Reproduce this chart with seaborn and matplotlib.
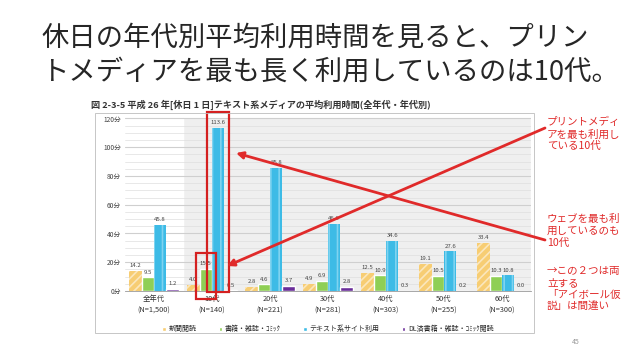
import matplotlib
matplotlib.use('Agg')
import matplotlib.pyplot as plt
from matplotlib.patches import Rectangle, FancyArrowPatch
from matplotlib.ticker import MultipleLocator
import numpy as np
import pandas as pd
import seaborn as sns

# data
ages = ['全年代', '10代', '20代', '30代', '40代', '50代', '60代']
samples = ['N=1,500', 'N=140', 'N=221', 'N=281', 'N=303', 'N=255', 'N=300']
media = ['新聞閲読', '書籍・雑誌・ｺﾐｯｸ', 'テキスト系サイト利用', 'DL済書籍・雑誌・ｺﾐｯｸ閲読']
newspaper = [14.2, 4.0, 2.8, 4.9, 12.5, 19.1, 33.4]
books = [9.5, 15.5, 4.6, 6.9, 10.9, 10.5, 10.3]
text_sites = [45.8, 113.6, 85.8, 46.6, 34.6, 27.6, 10.8]
dl_books = [1.2, 0.5, 3.7, 2.8, 0.3, 0.2, 0.0]
y_ticks = [0, 20, 40, 60, 80, 100, 120]

W, H = 638, 359


def px(x, y):
    # pixel position on the slide -> figure fraction
    return x / W, 1 - y / H


sns.set_style("white")
plt.rcParams['font.family'] = ['Noto Sans CJK JP', 'DejaVu Sans']
plt.rcParams['hatch.linewidth'] = 1.2

df = pd.DataFrame({
    'age': ages * 4,
    'media': np.repeat(media, len(ages)),
    'minutes': newspaper + books + text_sites + dl_books,
})
colors = ['#f7cd73', '#8fcf55', '#3dbbe6', '#6a2d9a']

fig = plt.figure(figsize=(W / 100, H / 100), dpi=100)
ax = fig.add_axes([125 / W, 68 / H, 406 / W, 174 / H])

ax.axvspan(0.5, 6.5, facecolor='#efefef', zorder=0.2)
sns.barplot(data=df, x='age', y='minutes', hue='media', palette=colors,
            width=0.85, saturation=1, ax=ax, zorder=2)

# stripes like the original
for p in ax.containers[0]:
    p.set_hatch('////')
    p.set_edgecolor('#fbe7bd')
    p.set_linewidth(0)
for p in ax.containers[2]:
    p.set_hatch('||')
    p.set_edgecolor('#7fd3f0')
    p.set_linewidth(0)

for c in ax.containers:
    ax.bar_label(c, fmt='%.1f', fontsize=4.3, padding=2, color='#444444')

ax.set_ylim(0, 121)
ax.set_xlim(-0.5, 6.5)
ax.set_yticks(y_ticks)
ax.set_yticklabels([f'{v}分' for v in y_ticks], fontsize=4.8, color='#444444')
ax.yaxis.set_minor_locator(MultipleLocator(5))
ax.set_axisbelow(True)
ax.grid(axis='y', which='major', color='#cfcfcf', lw=0.8, zorder=0.5)
ax.grid(axis='y', which='minor', color='#dedede', lw=0.5, zorder=0.5)
ax.set_xticks(range(len(ages)))
ax.set_xticklabels([f'{a}\n({n})' for a, n in zip(ages, samples)],
                   fontsize=5.3, color='#333333', linespacing=1.5)
ax.tick_params(length=0, pad=3)
ax.set_xlabel('')
ax.set_ylabel('')
for s in ['top', 'right', 'left']:
    ax.spines[s].set_visible(False)
ax.spines['bottom'].set_color('#999999')
ax.spines['bottom'].set_linewidth(0.6)

ax.legend(loc='upper center', bbox_to_anchor=(0.5, -0.16), ncol=4, frameon=False,
          fontsize=5, handlelength=0.5, handleheight=0.5, handletextpad=0.4,
          columnspacing=3.2)

# frame of the pasted chart and its title
x0, y0 = px(95, 333)
x1, y1 = px(534, 113)
fig.add_artist(Rectangle((x0, y0), x1 - x0, y1 - y0, transform=fig.transFigure,
                         fill=False, edgecolor='#bdbdbd', lw=0.6))
fig.text(*px(91, 105), '図 2-3-5 平成 26 年[休日 1 日]テキスト系メディアの平均利用時間(全年代・年代別)',
         fontsize=6.6, fontweight='bold', color='#333333', va='center')

# slide title
fig.text(*px(41, 38), '休日の年代別平均利用時間を見ると、プリン', fontsize=19.7, va='center')
fig.text(*px(41, 72), 'トメディアを最も長く利用しているのは10代。', fontsize=19.7, va='center')

red = '#e02a2a'
# boxes around the 10代 bars
tb = ax.containers[2][1]
ax.add_patch(Rectangle((tb.get_x() - 0.085, -0.7), tb.get_width() + 0.17, 125,
                       fill=False, edgecolor='#d42020', lw=1.6, clip_on=False, zorder=5))
bb = ax.containers[1][1]
ax.add_patch(Rectangle((bb.get_x() - 0.07, -5.5), bb.get_width() + 0.14, 32,
                       fill=False, edgecolor='#d42020', lw=1.6, clip_on=False, zorder=5))

# arrows from the notes
for start, end in [((545, 128), (227, 266)), ((545, 240), (236, 153))]:
    fig.add_artist(FancyArrowPatch(px(*start), px(*end), transform=fig.transFigure,
                                   arrowstyle='-|>', mutation_scale=10, color=red,
                                   lw=2.0, shrinkA=0, shrinkB=0, zorder=6))

fig.text(*px(547, 117), 'プリントメディ\nアを最も利用し\nている10代', fontsize=7.6,
         color=red, va='top', linespacing=1.25)
fig.text(*px(547, 214), 'ウェブを最も利\n用しているのも\n10代', fontsize=7.6,
         color=red, va='top', linespacing=1.25)
fig.text(*px(547, 266), '→この２つは両\n立する\n「アイボール仮\n説」は間違い', fontsize=7.6,
         color=red, va='top', linespacing=1.25)
fig.text(*px(576, 342), '45', fontsize=5, color='#999999', ha='center', va='center')

fig.savefig('out.png', dpi=100, facecolor='white')
